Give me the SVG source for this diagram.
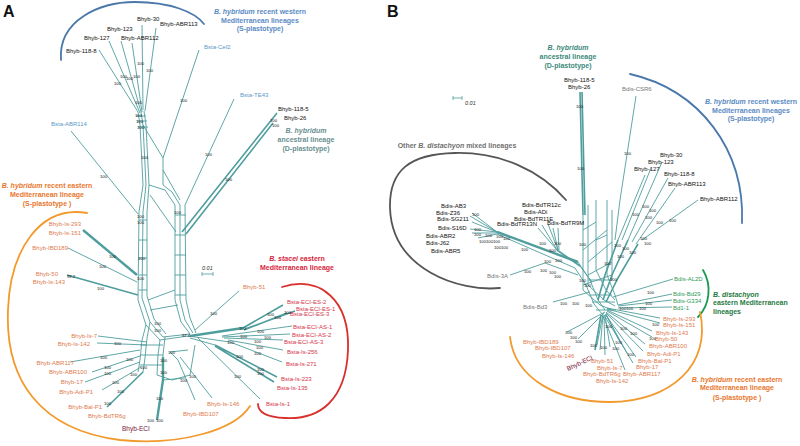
<svg xmlns="http://www.w3.org/2000/svg" width="800" height="446" viewBox="0 0 800 446">
<style>
text{font-family:"Liberation Sans",Arial,Helvetica,sans-serif}
.l{fill:none;stroke:#4f9d9d;stroke-width:0.9}
.m{fill:none;stroke:#4f9d9d;stroke-width:1.6}
.t{fill:none;stroke:#4f9d9d;stroke-width:2.4}
.lb{font-size:6px;fill:#111}
.bs{font-size:4.2px;fill:#111}
.or{font-size:6px;fill:#e07a4e}
.rd{font-size:6px;fill:#d6344a}
.bl{font-size:6px;fill:#5b98c8}
.gn{font-size:6px;fill:#2e9a5a}
.gy{font-size:6px;fill:#777}
.ti{font-size:7px;font-weight:bold;text-anchor:middle}
.ts{font-size:7px;font-weight:bold;text-anchor:start}
.arc{fill:none;stroke-width:1.8;stroke-linecap:round}
.e{text-anchor:end}
</style>

<!-- panel letters -->
<text x="3" y="17" font-size="16" font-weight="bold" fill="#111">A</text>
<text x="387" y="17" font-size="16" font-weight="bold" fill="#111">B</text>

<!-- group arcs -->
<g id="arcs">
<path class="arc" stroke="#4a78aa" d="M61,60 C58,20 100,2 135,2 C170,2 195,12 204,24"/>
<path class="arc" stroke="#f29a2e" d="M87,213 C40,205 10,250 8,310 C5,380 40,430 120,440 C180,446 235,430 250,406"/>
<path class="arc" stroke="#d9302c" d="M282,287 C320,275 350,300 348,350 C346,400 320,420 285,418 C262,417 258,410 258,404"/>
<path class="arc" stroke="#555" d="M500,288 C460,292 392,270 390,208 C389,170 410,154 455,153 C500,152 540,170 566,200"/>
<path class="arc" stroke="#4a78aa" d="M630,74 C700,90 745,150 742,223"/>
<path class="arc" stroke="#1a9a50" d="M703,270 C712,285 710,305 698,317"/>
<path class="arc" stroke="#f29a2e" d="M510,337 C515,380 560,402 610,402 C670,402 712,365 700,312"/>
</g>

<!-- group titles -->
<g id="titles">
<text class="ti" fill="#5b8bc4" x="260" y="14"><tspan font-style="italic">B. hybridum</tspan> recent western</text>
<text class="ti" fill="#5b8bc4" x="260" y="23">Mediterranean lineages</text>
<text class="ti" fill="#5b8bc4" x="260" y="31">(S-plastotype)</text>
<text class="ti" fill="#6a9090" x="306" y="133" font-style="italic">B. hybridum</text>
<text class="ti" fill="#6a9090" x="306" y="142">ancestral lineage</text>
<text class="ti" fill="#6a9090" x="306" y="151">(D-plastotype)</text>
<text class="ti" fill="#e8772e" x="47" y="188"><tspan font-style="italic">B. hybridum</tspan> recent eastern</text>
<text class="ti" fill="#e8772e" x="47" y="197">Mediterranean lineage</text>
<text class="ti" fill="#e8772e" x="47" y="206">(S-plastotype )</text>
<text class="ti" fill="#d7263d" x="297" y="261"><tspan font-style="italic">B. stacei</tspan>  eastern</text>
<text class="ti" fill="#d7263d" x="297" y="270">Mediterranean  lineage</text>

<text class="ti" fill="#3d8a7c" x="568" y="50" font-style="italic">B. hybridum</text>
<text class="ti" fill="#3d8a7c" x="568" y="59">ancestral lineage</text>
<text class="ti" fill="#3d8a7c" x="568" y="68">(D-plastotype)</text>
<text class="ti" fill="#707070" x="457" y="148">Other <tspan font-style="italic">B. distachyon</tspan>  mixed lineages</text>
<text class="ti" fill="#5b8bc4" x="751" y="104"><tspan font-style="italic">B. hybridum</tspan> recent western</text>
<text class="ti" fill="#5b8bc4" x="751" y="113">Mediterranean lineages</text>
<text class="ti" fill="#5b8bc4" x="751" y="121">(S-plastotype)</text>
<text class="ts" fill="#1f7a3f" x="713" y="296.5" font-style="italic">B. distachyon</text>
<text class="ts" fill="#1f7a3f" x="713" y="305">eastern Mediterranean</text>
<text class="ts" fill="#1f7a3f" x="713" y="313.5">lineages</text>
<text class="ti" fill="#e8772e" x="737" y="381.5"><tspan font-style="italic">B. hybridum</tspan> recent eastern</text>
<text class="ti" fill="#e8772e" x="737" y="389.5">Mediterranean lineage</text>
<text class="ti" fill="#e8772e" x="737" y="399.5">(S-plastotype )</text>
</g>

<!-- scale bars -->
<g id="scale">
<path d="M202,274 H213 M202,272 V276 M213,272 V276" stroke="#4f9d9d" stroke-width="0.8" fill="none"/>
<text x="202" y="270" font-size="5.5" font-style="italic" fill="#333">0.01</text>
<path d="M453,98 H462 M453,96 V100 M462,96 V100" stroke="#4f9d9d" stroke-width="0.8" fill="none"/>
<text x="465" y="105" font-size="5.5" font-style="italic" fill="#333">0.01</text>
</g>

<!-- connectors (network edges) -->
<g id="edges">
<!-- Panel A: western S-plastotype star -->
<path class="l" d="M99,50 L138,112 M109,41 L140,113 M121,41 L141,112 M132,43 L142,112 M142,25 L143,110 M156,28 L145,111"/>
<path class="l" d="M138,112 L140,125 L143,185 M141,112 L143,125 L146,185 M144,111 L146,125 L149,185 M136,116 H146 M137,121 H147 M138,127 H148"/>
<path class="l" d="M199,50 L163,158 L163,185 M143,125 L163,158 M234,99 L185,205 M71,131 L138,214"/>
<path class="m" d="M277,113 L182,232 M273,123 L186,234"/>
<!-- Panel A: reticulate web -->
<path class="l" d="M143,185 L139,212 L138,300 L146,325 L160,340 L188,336 M146,185 L143,212 L142,298 L150,322 L163,337 L190,334 M149,185 L147,212 L147,296 L154,319 L166,334"/>
<path class="l" d="M149,185 L165,190 L175,205 L175,300 L181,322 L190,334 M163,185 L172,192 L180,205 L180,300 L185,320 L193,333 M185,205 L186,300 L190,318 L196,333 M163,170 L180,200 M150,195 L176,232"/>
<path class="l" d="M139,220 H147 M139,240 H147 M139,258 H147 M139,275 H147 M139,290 H147 M175,215 H186 M175,235 H186 M175,255 H186 M175,275 H186 M175,295 H186 M148,300 L175,290 M150,310 L178,305"/>
<path class="l" d="M146,325 L142,340 L140,360 L138,372 M150,322 L147,338 L145,358 L143,372 M160,340 L158,355 L157,375 M165,337 L163,355 L163,380 M140,345 H163 M140,355 H163 M140,365 H163 M157,375 L172,380 L190,375 L195,345 M163,380 L185,378 M170,352 L188,350"/>
<!-- Panel A: eastern lineage branches -->
<path class="t" d="M83,230 L137,275"/>
<path class="l" d="M68,248 L137,282"/>
<path class="m" d="M67,275 L138,295"/>
<path class="l" d="M98,336 L147,342 M97,343 L147,345 M70,362 L140,350 M92,372 L140,356 M85,382 L140,362 M102,390 L141,367"/>
<path class="m" d="M107,407 L143,372"/>
<path class="t" d="M157,420 L163,380 L163,357"/>
<path class="l" d="M195,400 L178,360 L170,352 M212,398 L180,357 M239,291 L195,330"/>
<!-- Panel A: B. stacei branches -->
<path class="t" d="M190,336 L243,328"/>
<path class="m" d="M243,328 L283,305 M245,329 L295,311 M244,330 L287,313"/>
<path class="l" d="M222,336 L292,326 M222,337 L290,334 M224,338 L283,340 M228,340 L283,350 M230,342 L282,362 M198,338 L260,399"/>
<path class="m" d="M215,345 L277,377 M215,346 L274,382"/>
<path class="l" d="M188,336 L230,342 M190,338 L215,345"/>

<!-- Panel B: D-plastotype -->
<path class="m" d="M580,92 L583,215 M582,92 L585,215"/>
<!-- Panel B: ladder -->
<path class="l" d="M583,215 L583,290 M588,205 L588,285 M596,200 L596,270 M607,200 L607,275 M612,210 L612,280 M583,250 L607,230 M588,262 L612,242 M583,230 L596,222 M596,240 L607,235 M588,275 L612,262 M583,285 L612,275"/>
<path class="l" d="M636,96 L620,200 L615,240"/>
<path class="l" d="M645,175 L618,240 M651,168 L622,240 M662,162 L628,240 M668,178 L632,242 M675,188 L636,244 M698,200 L642,240"/>
<path class="m" d="M618,240 L605,275 L598,300 M628,240 L612,275 L603,300 M638,244 L618,278 L606,302"/>
<!-- Panel B: Bdis mixed lineages -->
<path class="l" d="M472,213 L497,232 M470,216 L497,232 M472,222 L497,232 M470,229 L497,232 M472,233 L497,233 M478,238 L497,234"/>
<path class="t" d="M497,232 L578,262"/>
<path class="l" d="M497,234 L575,268"/>
<path class="l" d="M538,228 L557,250 M542,225 L557,250 M548,224 L558,250 M553,228 L558,250 M558,228 L559,250"/>
<path class="m" d="M557,250 L580,266"/>
<path class="l" d="M510,275 L545,263 L578,275 M553,302 L590,292"/>
<!-- Panel B: hub -->
<path class="l" d="M578,262 L590,280 L598,300 L605,310 M575,268 L586,285 L594,304 L602,314 M580,266 L592,282 M583,290 L600,305 L612,310 M588,285 L604,300 L615,306 M596,270 L606,290 L615,300 M607,275 L615,295 L618,305 M590,295 H612 M592,302 H615 M596,310 H616 M588,280 H612"/>
<!-- Panel B: green -->
<path class="l" d="M673,279 L613,297 M672,294 L618,305 M672,300 L618,306 M672,307 L618,308"/>
<!-- Panel B: orange fan -->
<path class="l" d="M607,308 L660,318 M607,309 L660,323 M607,310 L652,331 M607,311 L652,337 M606,312 L645,344 M606,313 L643,351 M605,314 L636,357 M604,315 L633,363 M603,316 L625,370"/>
<path class="l" d="M605,312 L567,332 M604,313 L578,339 M603,314 L597,345 M603,315 L600,350 M604,316 L605,355 M605,315 L610,347 M606,314 L620,342 M606,315 L627,353"/>
<path class="m" d="M601,315 L595,350"/>
</g>

<!-- nodes: Panel A -->
<g id="nodesA">
<g id="a-w"><text class="lb" x="137" y="21">Bhyb-30</text><text class="lb" x="160" y="26">Bhyb-ABR113</text><text class="lb" x="107" y="31">Bhyb-123</text><text class="lb" x="84" y="40">Bhyb-127</text><text class="lb" x="121" y="40">Bhyb-ABR112</text><text class="lb" x="66" y="53">Bhyb-118-8</text></g>
<g id="a-bsta-w"><text class="bl" x="204" y="49">Bsta-Cef2</text><text class="bl" x="240" y="97">Bsta-TE43</text><text class="bl" x="51" y="126">Bsta-ABR114</text></g>
<g id="a-d"><text class="lb" x="278" y="111">Bhyb-118-5</text><text class="lb" x="284" y="120">Bhyb-26</text></g>
<g id="a-e">
<text class="or e" x="81" y="226">Bhyb-Is-293</text><text class="or e" x="81" y="235">Bhyb-Is-151</text><text class="or e" x="68" y="250">Bhyb-IBD189</text><text class="or e" x="58" y="276">Bhyb-50</text><text class="or e" x="65" y="284">Bhyb-Is-143</text>
<text class="or" x="243" y="289">Bhyb-51</text>
<text class="or e" x="97" y="338">Bhyb-Is-7</text><text class="or e" x="90" y="346">Bhyb-Is-142</text><text class="or e" x="74" y="365">Bhyb-ABR117</text><text class="or e" x="87" y="374">Bhyb-ABR100</text><text class="or e" x="83" y="384">Bhyb-17</text><text class="or e" x="93" y="394">Bhyb-Adi-P1</text><text class="or e" x="102" y="409">Bhyb-Bal-P1</text>
<text class="or" x="88" y="418">Bhyb-BdTR6g</text><text class="or" x="183" y="416">Bhyb-IBD107</text><text class="or" x="207" y="406">Bhyb-Is-146</text>
<text x="122" y="431" font-size="6.5" fill="#7a2040">Bhyb-ECI</text>
</g>
<g id="a-bsta-e">
<text class="rd" x="287" y="304">Bsta-ECI-ES-2</text><text class="rd" x="296" y="311">Bsta-ECI-ES-1</text><text class="rd" x="290" y="316">Bsta-ECI-ES-3</text>
<text class="rd" x="293" y="329">Bsta-ECI-AS-1</text><text class="rd" x="292" y="337">Bsta-ECI-AS-2</text><text class="rd" x="284" y="344">Bsta-ECI-AS-3</text>
<text class="rd" x="287" y="354">Bsta-Is-256</text><text class="rd" x="286" y="366">Bsta-Is-271</text><text class="rd" x="281" y="381">Bsta-Is-223</text><text class="rd" x="277" y="390">Bsta-Is-135</text><text class="rd" x="266" y="406">Bsta-Is-1</text>
</g>
</g>

<!-- nodes: Panel B -->
<g id="nodesB">
<g id="b-d"><text class="lb" x="564" y="82">Bhyb-118-5</text><text class="lb" x="568" y="89">Bhyb-26</text></g>
<g id="b-csr"><text class="gy" x="622" y="91" fill="#555">Bdis-CSR6</text></g>
<g id="b-w"><text class="lb" x="660" y="157">Bhyb-30</text><text class="lb" x="648" y="164">Bhyb-123</text><text class="lb" x="634" y="171">Bhyb-127</text><text class="lb" x="664" y="176">Bhyb-118-8</text><text class="lb" x="668" y="186">Bhyb-ABR113</text><text class="lb" x="700" y="201">Bhyb-ABR112</text></g>
<g id="b-mix">
<text class="lb" x="441" y="208">Bdis-AB3</text><text class="lb" x="436" y="215">Bdis-Z36</text><text class="lb" x="437" y="221">Bdis-SG211</text><text class="lb" x="438" y="230">Bdis-S16D</text><text class="lb" x="426" y="238">Bdis-ABR2</text><text class="lb" x="426" y="245">Bdis-J62</text><text class="lb" x="431" y="253">Bdis-ABR5</text>
<text class="lb" x="522" y="207">Bdis-BdTR12c</text><text class="lb" x="524" y="214">Bdis-ADi</text><text class="lb" x="514" y="221">Bdis-BdTR11E</text><text class="lb" x="497" y="226">Bdis-BdTR13N</text><text class="lb" x="547" y="225">Bdis-BdTR9M</text>
<text class="gy" x="487" y="278">Bdis-3A</text><text class="gy" x="523" y="309">Bdis-Bd3</text>
</g>
<g id="b-green"><text class="gn" x="674" y="281">Bdis-AL2D</text><text class="gn" x="673" y="296">Bdis-Bd29</text><text class="gn" x="673" y="303">Bdis-G334</text><text class="gn" x="673" y="310">Bd1-1</text></g>
<g id="b-e">
<text class="or" x="663" y="321">Bhyb-Is-293</text><text class="or" x="663" y="327">Bhyb-Is-151</text><text class="or" x="656" y="335">Bhyb-Is-143</text><text class="or" x="655" y="341">Bhyb-50</text><text class="or" x="649" y="348">Bhyb-ABR100</text><text class="or" x="647" y="356">Bhyb-Adi-P1</text><text class="or" x="638" y="363">Bhyb-Bal-P1</text><text class="or" x="636" y="369">Bhyb-17</text><text class="or" x="623" y="376">Bhyb-ABR117</text>
<text class="or" x="523" y="344">Bhyb-IBD189</text><text class="or" x="535" y="350">Bhyb-IBD107</text><text class="or" x="542" y="358">Bhyb-Is-146</text><text class="or" x="591" y="363">Bhyb-51</text><text class="or" x="597" y="370">Bhyb-Is-7</text><text class="or" x="583" y="376">Bhyb-BdTR6g</text><text class="or" x="596" y="383">Bhyb-Is-142</text>
<text x="568" y="371" font-size="6.5" fill="#7a2040" transform="rotate(-25 568 371)">Bhyb-ECI</text>
</g>
</g>

<!-- bootstrap values -->
<g id="support" class="bs">
<text x="137" y="65">100</text><text x="146" y="72">100</text><text x="114" y="85">100</text><text x="120" y="78">100</text><text x="126" y="80">100</text><text x="133" y="78">100</text><text x="135" y="104">100</text><text x="135" y="117">100</text><text x="136" y="123">100</text><text x="137" y="129">100</text><text x="141" y="159">100</text><text x="180" y="102">100</text><text x="205" y="156">100</text><text x="100" y="178">100</text><text x="225" y="181">100</text><text x="270" y="122">100</text><text x="272" y="127">100</text>
<text x="174" y="214">100</text><text x="137" y="218">100</text><text x="137" y="224">100</text><text x="109" y="258">100</text><text x="99" y="268">100</text><text x="67" y="278">99.2</text><text x="97" y="290">100</text><text x="138" y="260">100</text><text x="137" y="280">100</text>
<text x="210" y="315">100</text><text x="267" y="316">100</text><text x="274" y="319">100</text><text x="284" y="314">100</text><text x="239" y="330">100</text><text x="257" y="333">100</text><text x="240" y="338">100</text><text x="264" y="339">100</text><text x="254" y="343">100</text><text x="227" y="344">100</text><text x="256" y="349">100</text><text x="236" y="358">100</text><text x="254" y="355">100</text><text x="257" y="371">100</text><text x="257" y="375">100</text><text x="234" y="378">100</text><text x="189" y="378">100</text><text x="180" y="382">100</text>
<text x="154" y="325">100</text><text x="154" y="332">100</text><text x="114" y="345">100</text><text x="100" y="359">100</text><text x="126" y="361">100</text><text x="104" y="369">100</text><text x="104" y="375">100</text><text x="112" y="384">100</text><text x="117" y="393">100</text><text x="104" y="405">100</text><text x="140" y="369">100</text><text x="130" y="376">100</text><text x="160" y="362">100</text><text x="160" y="374">100</text><text x="156" y="400">100</text><text x="147" y="422">100</text><text x="156" y="422">100</text><text x="182" y="337">97.4</text><text x="168" y="354">100</text>
<text x="576" y="108">100</text><text x="577" y="170">100</text><text x="624" y="155">100</text>
<text x="472" y="216">100</text><text x="474" y="231">100</text><text x="474" y="236">100</text><text x="479" y="243">100</text><text x="485" y="237">100</text><text x="486" y="243">100</text><text x="493" y="243">100</text><text x="496" y="238">100</text><text x="503" y="240">100</text><text x="494" y="249">100</text><text x="501" y="249">100</text><text x="521" y="251">100</text><text x="539" y="245">100</text><text x="554" y="245">100</text><text x="549" y="252">100</text><text x="555" y="262">100</text><text x="544" y="263">100</text><text x="524" y="273">100</text><text x="540" y="272">100</text><text x="549" y="274">100</text><text x="554" y="278">100</text><text x="579" y="246">100</text><text x="560" y="305">100</text><text x="572" y="305">100</text><text x="585" y="307">100</text><text x="579" y="282">100</text><text x="584" y="287">100</text>
<text x="642" y="208">100</text><text x="649" y="212">100</text><text x="632" y="216">100</text><text x="645" y="219">100</text><text x="656" y="224">100</text><text x="669" y="222">100</text><text x="640" y="240">100</text><text x="644" y="245">100</text><text x="614" y="247">100</text><text x="622" y="250">100</text><text x="629" y="254">100</text><text x="617" y="258">100</text><text x="604" y="265">100</text><text x="610" y="281">100</text><text x="647" y="294">100</text><text x="645" y="305">100</text><text x="619" y="310">100</text><text x="626" y="310">100</text><text x="639" y="310">100</text>
<text x="652" y="326">100</text><text x="649" y="340">100</text><text x="565" y="334">100</text><text x="570" y="339">100</text><text x="575" y="343">100</text><text x="590" y="347">100</text><text x="600" y="349">100</text><text x="612" y="350">100</text><text x="615" y="344">100</text><text x="627" y="356">100</text><text x="605" y="328">100</text><text x="620" y="330">100</text><text x="630" y="335">100</text>
</g>
</svg>
